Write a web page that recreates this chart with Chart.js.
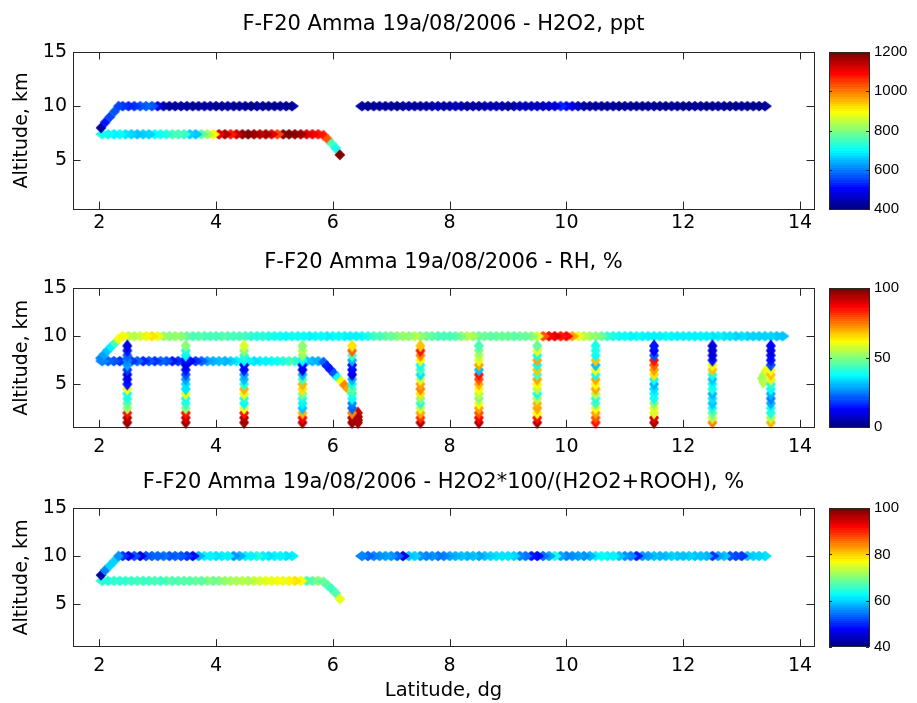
<!DOCTYPE html>
<html><head><meta charset="utf-8">
<script src="https://cdn.jsdelivr.net/npm/chart.js@4/dist/chart.umd.min.js"></script>
<style>
html,body{margin:0;padding:0;background:#fff;width:917px;height:703px;overflow:hidden;position:relative;}
canvas{position:absolute;}
</style></head><body>
<canvas id="m1" width="840" height="240" style="left:0;top:0;width:840px;height:240px"></canvas>
<canvas id="c1" width="97" height="240" style="left:820px;top:0;width:97px;height:240px"></canvas>
<canvas id="m2" width="840" height="220" style="left:0;top:240px;width:840px;height:220px"></canvas>
<canvas id="c2" width="97" height="220" style="left:820px;top:240px;width:97px;height:220px"></canvas>
<canvas id="m3" width="840" height="243" style="left:0;top:460px;width:840px;height:243px"></canvas>
<canvas id="c3" width="97" height="243" style="left:820px;top:460px;width:97px;height:243px"></canvas>
<script>
// ---------------- DATA ----------------
const titles = [
  'F-F20 Amma 19a/08/2006 - H2O2, ppt',
  'F-F20 Amma 19a/08/2006 - RH, %',
  'F-F20 Amma 19a/08/2006 - H2O2*100/(H2O2+ROOH), %'
];
const xTitle = 'Latitude, dg';
const yTitle = 'Altitude, km';

const altHigh = 10.0;
const altLow = 7.4;

// common track (H2O2 panels)
const climbLat = [2.03, 2.10, 2.18, 2.26, 2.33];
const climbAlt = [8.0, 8.5, 9.0, 9.5, 10.0];
const row10WestLat = [2.4,2.5,2.6,2.7,2.8,2.9,3.0,3.1,3.2,3.3,3.4,3.5,3.6,3.7,3.8,3.9,4.0,4.1,4.2,4.3,4.4,4.5,4.6,4.7,4.8,4.9,5.0,5.1,5.2,5.3];
const row10EastLat = [6.5,6.6,6.7,6.8,6.9,7.0,7.1,7.2,7.3,7.4,7.5,7.6,7.7,7.8,7.9,8.0,8.1,8.2,8.3,8.4,8.5,8.6,8.7,8.8,8.9,9.0,9.1,9.2,9.3,9.4,9.5,9.6,9.7,9.8,9.9,10.0,10.1,10.2,10.3,10.4,10.5,10.6,10.7,10.8,10.9,11.0,11.1,11.2,11.3,11.4,11.5,11.6,11.7,11.8,11.9,12.0,12.1,12.2,12.3,12.4,12.5,12.6,12.7,12.8,12.9,13.0,13.1,13.2,13.3,13.4];
const rowLowLat = [2.05,2.15,2.25,2.35,2.45,2.55,2.65,2.75,2.85,2.95,3.05,3.15,3.25,3.35,3.45,3.55,3.65,3.75,3.85,3.95,4.05,4.15,4.25,4.35,4.45,4.55,4.65,4.75,4.85,4.95,5.05,5.15,5.25,5.35,5.45,5.55,5.65,5.75];
const descentLat = [5.84, 5.91, 5.98, 6.05, 6.12];
const descentAlt = [7.3, 6.95, 6.55, 6.1, 5.5];

// H2O2, ppt
const h2o2Climb = [430, 520, 550, 560, 550];
const h2o2Row10West = [540,530,545,570,575,560, 470,430,425,420,425,420,418,420,425,420, 418,420,422,418,420,415,418,420,418,415, 418,420,418,420];
const h2o2Row10East = [420,418,420,422,425, 420,418,420,425,430,428,425,432,435,430, 440,445,430,428,425,430,435,440,432,428, 430,440,445,440,450,455,450,460,480,530, 500,460,440,430,425,420,418,420,422,418, 420,418,416,418,420,418,416,418,420,418, 416,418,420,418,416,418,420,418,416,418, 420,418,416,418,420];
const h2o2RowLow = [720,700,690,700,680,670,660,670,665,700, 720,735,750,760,740,670,650,770,830,900, 1130,1160,1090,1150,1190,1200,1170,1150,1180,1120, 1050,1200,1200,1190,1180,1130,1110,1090];
const h2o2Descent = [1080, 1040, 760, 720, 1200];

// H2O2*100/(H2O2+ROOH), %
const ratioClimb = [42, 55, 60, 60, 56];
const ratioRow10West = [50,47,52,46,52,53, 53,54,52,53,52,50,48,58,62,62, 61,62,62,56,58,62,62,65,62,61, 62,62,61,62];
const ratioRow10East = [55,53,55,56,57, 56,53,47,59,60,56,55,56,54,55, 57,58,59,58,59,57,59,60,61,61, 61,60,55,54,49,48,54,57,64,57, 55,56,57,56,58,62,63,62,62,59, 56,55,49,56,57,59,58,59,60,59, 59,60,59,59,58,50,57,59,52,51, 50,59,60,60,61];
const ratioRowLow = [65,65,66,65,66,66,67,66,67,67, 66,68,67,68,68,68,69,68,70,69, 70,71,72,72,73,72,74,75,76,76, 77,76,78,79,77,67,69,70];
const ratioDescent = [69, 68, 66, 68, 76];

// RH, %
const rhClimbLat = [2.02, 2.08, 2.14, 2.20, 2.27, 2.33];
const rhClimbAlt = [7.7, 8.1, 8.5, 8.9, 9.3, 9.7];
const rhClimb = [25, 28, 32, 36, 45, 62];
const rhRow10Lat = [2.4,2.5,2.6,2.7,2.8,2.9,3.0,3.1,3.2,3.3,3.4,3.5,3.6,3.7,3.8,3.9,4.0,4.1,4.2,4.3,4.4,4.5,4.6,4.7,4.8,4.9,5.0,5.1,5.2,5.3,5.4,5.5,5.6,5.7,5.8,5.9,6.0,6.1,6.2,6.3,6.4,6.5,6.6,6.7,6.8,6.9,7.0,7.1,7.2,7.3,7.4,7.5,7.6,7.7,7.8,7.9,8.0,8.1,8.2,8.3,8.4,8.5,8.6,8.7,8.8,8.9,9.0,9.1,9.2,9.3,9.4,9.5,9.6,9.7,9.8,9.9,10.0,10.1,10.2,10.3,10.4,10.5,10.6,10.7,10.8,10.9,11.0,11.1,11.2,11.3,11.4,11.5,11.6,11.7,11.8,11.9,12.0,12.1,12.2,12.3,12.4,12.5,12.6,12.7,12.8,12.9,13.0,13.1,13.2,13.3,13.4,13.5,13.6,13.7];
const rhRow10 = [62,55,55,58,64,65, 60,52,50,52,50,46,45,46,45,44, 45,46,45,44,45,43,42,42,41,40, 39,38,38,39,38,38,37,38,38,37, 38,38,37,36,37,38,42,44,45,47, 48,50,52,50,55,50,48,46,45,44, 45,46,50,55,53,48,47,46,47,48, 47,46,48,47,50,58,80,88,90,86, 88,72,60,56,52,50,48,42,40,38, 38,37,38,37,37,36,37,38,37,37, 36,37,36,37,36,35,36,35,35,34, 35,34,34,34,33,33,32,32];
const rhRowLow = [26,22,20,18,20,18,22,16,20,18, 22,20,15,18,20,13,18,22,28,30, 32,30,34,36,38,36,35,37,36,38, 40,42,44,42,36,32,30,30];
const rhDescentLat = [5.84, 5.90, 5.96, 6.02, 6.08, 6.14, 6.20, 6.26, 6.32];
const rhDescentAlt = [7.3, 6.9, 6.5, 6.1, 5.7, 5.3, 4.9, 4.5, 4.1];
const rhDescent = [22, 16, 14, 20, 38, 62, 75, 72, 55];

// RH vertical profiles
const profileLat = [2.48, 3.48, 4.48, 5.48, 6.33, 7.5, 8.5, 9.5, 10.5, 11.5, 12.5, 13.5];
const profileAlt = [9.0, 8.5, 8.0, 7.5, 7.0, 6.5, 6.0, 5.5, 5.0, 4.5, 4.0, 3.5, 3.0, 2.5, 2.0, 1.5, 1.0];
const rhProfile2p5  = [10,15,22,25,28,18,10,12,15,62,40,42,48,52,85,95,97];
const rhProfile3p5  = [50,40,36,12,10,14,20,28,35,35,60,40,42,50,85,92,97];
const rhProfile4p5  = [58,50,42,38,12,15,28,32,42,70,60,42,38,60,85,95,97];
const rhProfile5p5  = [50,55,50,38,12,10,30,45,70,65,50,40,36,32,70,88,95];
const rhProfile6p35 = [65,78,45,30,15,12,10,30,40,48,42,38,25,22,75,95,97];
const rhProfile7p5  = [68,85,75,62,38,45,35,58,72,75,65,50,42,58,72,82,95];
const rhProfile8p5  = [45,50,55,60,72,32,85,80,70,62,55,50,62,72,80,88,96];
const rhProfile9p5  = [48,60,40,72,38,68,45,72,62,55,40,55,70,72,62,85,96];
const rhProfile10p5 = [40,40,38,68,32,62,40,72,62,72,55,42,45,62,72,80,85];
const rhProfile11p5 = [15,12,20,85,78,72,65,38,30,35,38,40,50,60,58,90,96];
const rhProfile12p5 = [10,8,10,15,62,68,40,32,38,40,30,35,32,40,48,55,75];
const rhProfile13p5 = [12,10,12,15,20,62,68,60,42,38,30,25,30,40,42,55,70];
const rhProfiles = [rhProfile2p5, rhProfile3p5, rhProfile4p5, rhProfile5p5, rhProfile6p35, rhProfile7p5,
                    rhProfile8p5, rhProfile9p5, rhProfile10p5, rhProfile11p5, rhProfile12p5, rhProfile13p5];
const rhBlobLat = [6.43, 6.43, 6.43, 6.43];
const rhBlobAlt = [2.0, 1.6, 1.25, 1.0];
const rhBlob = [90, 95, 97, 96];
const rhLoopLat = [13.42, 13.38, 13.35, 13.37];
const rhLoopAlt = [6.4, 6.0, 5.6, 5.2];
const rhLoop = [62, 58, 52, 56];

// colour scale limits and colourbar ticks
const h2o2Range = [400, 1200], h2o2Step = 200;
const rhRange = [0, 100], rhStep = 50;
const ratioRange = [40, 100], ratioStep = 20;

// ---------------- HELPERS ----------------
const MAIN_FONT = 'DejaVu Sans';
Chart.defaults.font.family = MAIN_FONT;
Chart.defaults.color = '#000';

function jet(t) {
  t = Math.max(0, Math.min(1, t));
  const k = Math.round(t * 63) / 63;
  const f = v => Math.round(255 * Math.max(0, Math.min(1, v)));
  return 'rgb(' + f(1.5 - Math.abs(4 * k - 3)) + ',' + f(1.5 - Math.abs(4 * k - 2)) + ',' + f(1.5 - Math.abs(4 * k - 1)) + ')';
}
function rowPts(lats, alt, vals) { return lats.map((x, i) => ({x, y: alt, v: vals[i]})).reverse(); }
function trackPts(lats, alts, vals) { return lats.map((x, i) => ({x, y: alts[i], v: vals[i]})); }
function profilePts() {
  const pts = [];
  profileLat.forEach((x, j) => {
    for (let i = profileAlt.length - 1; i >= 0; i--) pts.push({x, y: profileAlt[i], v: rhProfiles[j][i]});
  });
  return pts;
}

// marker shapes (half width, half height), styling only
const SHAPE_ROW = [7, 5.2];
const SHAPE_COL = [5, 6.6];
const SHAPE_TRACK = [5.4, 5.4];
const imgCache = {};
function diamondImg(color, a, b) {
  const key = color + '|' + a + '|' + b;
  if (imgCache[key]) return imgCache[key];
  const c = document.createElement('canvas');
  c.width = 2 * Math.ceil(a) + 2; c.height = 2 * Math.ceil(b) + 2;
  const g = c.getContext('2d');
  const cx = c.width / 2, cy = c.height / 2;
  g.fillStyle = color;
  g.beginPath();
  g.moveTo(cx - a, cy); g.lineTo(cx, cy - b); g.lineTo(cx + a, cy); g.lineTo(cx, cy + b);
  g.closePath(); g.fill();
  imgCache[key] = c;
  return c;
}

const AX = '#262626';
const boxTicks = {
  id: 'boxTicks',
  afterDraw(chart) {
    const {ctx, chartArea: a, scales: {x, y}} = chart;
    ctx.save();
    ctx.strokeStyle = AX; ctx.lineWidth = 1;
    ctx.beginPath();
    const L = 7.5;
    x.ticks.forEach(t => {
      const p = Math.round(x.getPixelForValue(t.value)) + 0.5;
      ctx.moveTo(p, a.bottom); ctx.lineTo(p, a.bottom - L);
      ctx.moveTo(p, a.top); ctx.lineTo(p, a.top + L);
    });
    y.ticks.forEach(t => {
      const p = Math.round(y.getPixelForValue(t.value)) + 0.5;
      ctx.moveTo(a.left, p); ctx.lineTo(a.left + L, p);
      ctx.moveTo(a.right, p); ctx.lineTo(a.right - L, p);
    });
    ctx.stroke();
    ctx.strokeRect(Math.round(a.left) + 0.5, Math.round(a.top) + 0.5, Math.round(a.right - a.left), Math.round(a.bottom - a.top));
    ctx.restore();
  }
};
const colorbar = {
  id: 'colorbar',
  beforeDatasetsDraw(chart) {
    const {ctx, chartArea: a, scales: {y}} = chart;
    const lo = y.min, hi = y.max, n = 64;
    ctx.save();
    for (let k = 0; k < n; k++) {
      const y0 = y.getPixelForValue(lo + (hi - lo) * k / n);
      const y1 = y.getPixelForValue(lo + (hi - lo) * (k + 1) / n);
      ctx.fillStyle = jet(k / (n - 1));
      ctx.fillRect(a.left, Math.floor(y1), a.right - a.left, Math.ceil(y0) - Math.floor(y1));
    }
    ctx.strokeStyle = AX; ctx.lineWidth = 1;
    ctx.beginPath();
    y.ticks.forEach(t => {
      const p = Math.round(y.getPixelForValue(t.value)) + 0.5;
      ctx.moveTo(a.left, p); ctx.lineTo(a.left + 3, p);
      ctx.moveTo(a.right, p); ctx.lineTo(a.right - 3, p);
    });
    ctx.stroke();
    ctx.strokeRect(Math.round(a.left) + 0.5, Math.round(a.top) + 0.5, Math.round(a.right - a.left), Math.round(a.bottom - a.top));
    ctx.restore();
  }
};

function makePanel(id, cfg) {
  const colorOf = c => c.raw ? jet((c.raw.v - cfg.range[0]) / (cfg.range[1] - cfg.range[0])) : '#000';
  return new Chart(document.getElementById(id), {
    type: 'scatter',
    data: {datasets: cfg.sets.map(d => ({
      data: d.pts, showLine: false, clip: false,
      pointStyle: c => diamondImg(colorOf(c), d.shape[0], d.shape[1]),
      pointRadius: 5, pointBorderWidth: 0,
      pointBackgroundColor: colorOf, pointBorderColor: colorOf
    }))},
    options: {
      responsive: false, animation: false, events: [],
      layout: {padding: {top: cfg.padTop, left: 0, right: 26, bottom: 0}},
      plugins: {
        legend: {display: false}, tooltip: {enabled: false},
        title: {display: true, text: cfg.title, fullSize: false, color: '#000',
          font: {family: MAIN_FONT, size: 21, weight: 'normal', lineHeight: 1.2},
          padding: {top: 0, bottom: cfg.titleGap}}
      },
      scales: {
        x: {type: 'linear', min: 1.55, max: 14.24,
          grid: {display: false, drawTicks: false, tickLength: 0}, border: {display: false},
          ticks: {stepSize: 2, includeBounds: false, padding: cfg.xPad, maxRotation: 0, color: '#000', font: {size: 19}},
          title: cfg.xTitle ? {display: true, text: cfg.xTitle, color: '#000', font: {size: 19.5, lineHeight: 1.2}, padding: {top: 0, bottom: 0.8}} : {display: false},
          afterFit: s => { s.height = cfg.xH; }},
        y: {type: 'linear', min: 0.5, max: 15,
          grid: {display: false, drawTicks: false, tickLength: 0}, border: {display: false},
          ticks: {stepSize: 5, includeBounds: false, padding: 6, color: '#000', font: {size: 19}},
          title: {display: true, text: yTitle, color: '#000', font: {size: 19, lineHeight: 1.2}, padding: {top: 11.1, bottom: 0}},
          afterFit: s => { s.width = 73; }}
      }
    },
    plugins: [boxTicks]
  });
}
function makeBar(id, cfg) {
  return new Chart(document.getElementById(id), {
    type: 'scatter',
    data: {datasets: []},
    options: {
      responsive: false, animation: false, events: [],
      layout: {padding: {top: cfg.top, bottom: cfg.bottom, left: 9, right: 0}},
      plugins: {legend: {display: false}, tooltip: {enabled: false}, title: {display: false}},
      scales: {
        x: {display: false, min: 0, max: 1},
        y: {position: 'right', min: cfg.range[0], max: cfg.range[1],
          grid: {display: false, drawTicks: false, tickLength: 0}, border: {display: false},
          ticks: {stepSize: cfg.step, includeBounds: false, padding: 5, color: '#000',
            font: {family: 'Liberation Sans', size: 15}, callback: v => String(v)},
          afterFit: s => { s.width = 48; }}
      }
    },
    plugins: [colorbar]
  });
}

// ---------------- CHARTS ----------------
makePanel('m1', {
  title: titles[0], range: h2o2Range, padTop: 11.9, titleGap: 14.9, xH: 31, xPad: 3,
  sets: [
    {pts: trackPts(climbLat, climbAlt, h2o2Climb), shape: SHAPE_TRACK},
    {pts: trackPts(descentLat, descentAlt, h2o2Descent), shape: SHAPE_TRACK},
    {pts: rowPts(row10WestLat, altHigh, h2o2Row10West), shape: SHAPE_ROW},
    {pts: rowPts(row10EastLat, altHigh, h2o2Row10East), shape: SHAPE_ROW},
    {pts: rowPts(rowLowLat, altLow, h2o2RowLow), shape: SHAPE_ROW}
  ]
});
makeBar('c1', {range: h2o2Range, step: h2o2Step, top: 52, bottom: 31});

makePanel('m2', {
  title: titles[1], range: rhRange, padTop: 9.9, titleGap: 13.2, xH: 32.7, xPad: 8,
  sets: [
    {pts: profilePts(), shape: SHAPE_COL},
    {pts: trackPts(rhBlobLat, rhBlobAlt, rhBlob), shape: SHAPE_COL},
    {pts: trackPts(rhLoopLat, rhLoopAlt, rhLoop), shape: SHAPE_COL},
    {pts: trackPts(rhDescentLat, rhDescentAlt, rhDescent), shape: SHAPE_TRACK},
    {pts: trackPts(rhClimbLat, rhClimbAlt, rhClimb), shape: SHAPE_TRACK},
    {pts: rowPts(rhRow10Lat, altHigh, rhRow10), shape: SHAPE_ROW},
    {pts: rowPts(rowLowLat, altLow, rhRowLow), shape: SHAPE_ROW}
  ]
});
makeBar('c2', {range: rhRange, step: rhStep, top: 48.3, bottom: 32.7});

makePanel('m3', {
  title: titles[2], range: ratioRange, padTop: 9.9, titleGap: 13.2, xH: 56.3, xPad: 8, xTitle: xTitle,
  sets: [
    {pts: trackPts(climbLat, climbAlt, ratioClimb), shape: SHAPE_TRACK},
    {pts: trackPts(descentLat, descentAlt, ratioDescent), shape: SHAPE_TRACK},
    {pts: rowPts(row10WestLat, altHigh, ratioRow10West), shape: SHAPE_ROW},
    {pts: rowPts(row10EastLat, altHigh, ratioRow10East), shape: SHAPE_ROW},
    {pts: rowPts(rowLowLat, altLow, ratioRowLow), shape: SHAPE_ROW}
  ]
});
makeBar('c3', {range: ratioRange, step: ratioStep, top: 48.3, bottom: 56.3});
</script>
</body></html>
